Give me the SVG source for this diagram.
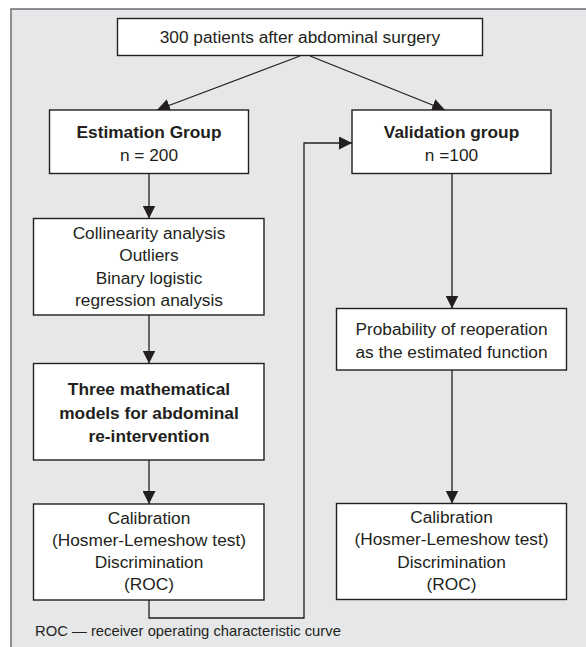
<svg xmlns="http://www.w3.org/2000/svg" width="586" height="647" viewBox="0 0 586 647">
<style>
.box{fill:#ffffff;stroke:#231f20;stroke-width:1.4}
.t{font-family:"Liberation Sans",Arial,sans-serif;font-size:17.3px;fill:#231f20;text-anchor:middle}
.b{font-weight:bold}
.c{fill:none;stroke:#231f20;stroke-width:1.3}
.note{font-family:"Liberation Sans",Arial,sans-serif;font-size:14.8px;fill:#231f20}
</style>
<defs>
<marker id="ah" markerUnits="userSpaceOnUse" markerWidth="13" markerHeight="13" refX="13" refY="6.5" orient="auto">
<path d="M0,0 L13,6.5 L0,13 z" fill="#231f20"/>
</marker>
</defs>
<rect x="0" y="0" width="586" height="647" fill="#ffffff"/>
<rect x="11" y="9" width="600" height="660" fill="#e6e7e8" stroke="#6d6e71" stroke-width="1.5"/>

<g id="connectors">
<path class="c" d="M300,56 L157,110" marker-end="url(#ah)"/>
<path class="c" d="M310,56 L445,110" marker-end="url(#ah)"/>
<path class="c" d="M149,173.5 L149,218.5" marker-end="url(#ah)"/>
<path class="c" d="M149,315 L149,363.5" marker-end="url(#ah)"/>
<path class="c" d="M149,460 L149,504" marker-end="url(#ah)"/>
<path class="c" d="M149,600 L149,618 L304,618 L304,143 L352,143" marker-end="url(#ah)"/>
<path class="c" d="M452,173.5 L452,308.5" marker-end="url(#ah)"/>
<path class="c" d="M452,370 L452,503.5" marker-end="url(#ah)"/>
</g>

<g id="n-patients">
<rect class="box" x="117.5" y="18.5" width="365" height="37"/>
<text class="t" x="300" y="42.5">300 patients after abdominal surgery</text>
</g>
<g id="n-estimation">
<rect class="box" x="49.5" y="110" width="199" height="63.5"/>
<text class="t b" x="149" y="138">Estimation Group</text>
<text class="t" x="149" y="160.5">n = 200</text>
</g>
<g id="n-validation">
<rect class="box" x="352" y="110" width="199" height="63.5"/>
<text class="t b" x="451.5" y="138">Validation group</text>
<text class="t" x="451.5" y="160.5">n =100</text>
</g>
<g id="n-analysis">
<rect class="box" x="33.5" y="218.5" width="230.5" height="96.5"/>
<text class="t" x="149" y="238.5">Collinearity analysis</text>
<text class="t" x="149" y="261">Outliers</text>
<text class="t" x="149" y="283.5">Binary logistic</text>
<text class="t" x="149" y="306">regression analysis</text>
</g>
<g id="n-models">
<rect class="box" x="33.5" y="363.5" width="230.5" height="96.5"/>
<text class="t b" x="149" y="395">Three mathematical</text>
<text class="t b" x="149" y="418.5">models for abdominal</text>
<text class="t b" x="149" y="442">re-intervention</text>
</g>
<g id="n-calib-left">
<rect class="box" x="33.5" y="504" width="230.5" height="96"/>
<text class="t" x="149" y="523.5">Calibration</text>
<text class="t" x="149" y="545.5">(Hosmer-Lemeshow test)</text>
<text class="t" x="149" y="568">Discrimination</text>
<text class="t" x="149" y="590">(ROC)</text>
</g>
<g id="n-probability">
<rect class="box" x="336.5" y="308.5" width="230" height="61.5"/>
<text class="t" x="451.5" y="335">Probability of reoperation</text>
<text class="t" x="451.5" y="357.5">as the estimated function</text>
</g>
<g id="n-calib-right">
<rect class="box" x="336.5" y="503.5" width="230" height="96"/>
<text class="t" x="451.5" y="523">Calibration</text>
<text class="t" x="451.5" y="545">(Hosmer-Lemeshow test)</text>
<text class="t" x="451.5" y="567.5">Discrimination</text>
<text class="t" x="451.5" y="589.5">(ROC)</text>
</g>
<text class="note" x="35" y="636">ROC — receiver operating characteristic curve</text>
</svg>
